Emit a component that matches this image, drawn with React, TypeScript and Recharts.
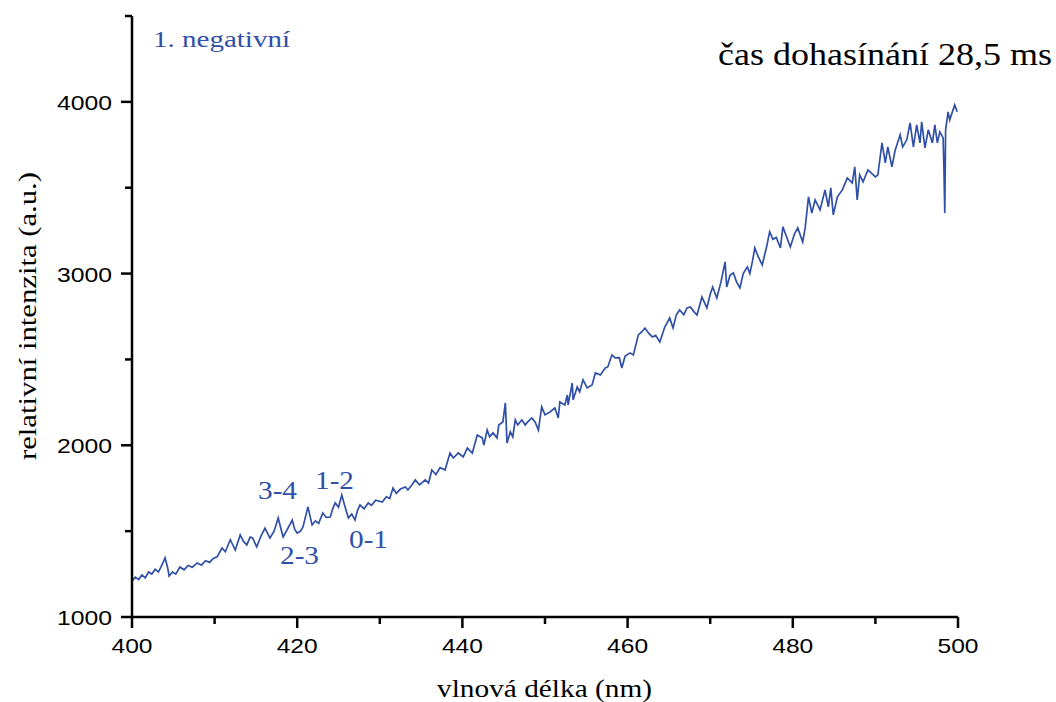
import React from 'react';
import { LineChart, Line, XAxis, YAxis } from 'recharts';

// wavelength (nm) and relative intensity (a.u.)
const wavelength = [
  400.0, 400.4, 400.8, 401.2, 401.6, 402.0, 402.4, 402.8, 403.2, 403.6,
  404.0, 404.3, 404.5, 404.9, 405.3, 405.8, 406.3, 406.8, 407.3, 407.9,
  408.4, 408.9, 409.4, 409.8, 410.3, 410.9, 411.3, 411.9, 412.5, 413.1,
  413.5, 413.9, 414.3, 414.6, 415.1, 415.6, 416.1, 416.7, 417.2, 417.7,
  418.0, 418.3, 418.8, 419.4, 419.7, 420.0, 420.4, 420.7, 421.3, 421.8,
  422.2, 422.6, 423.1, 423.5, 424.0, 424.3, 424.6, 425.0, 425.4, 425.8,
  426.2, 426.6, 427.0, 427.3, 427.6, 428.1, 428.6, 429.0, 429.5, 430.3,
  430.8, 431.2, 431.6, 432.0, 432.5, 433.1, 433.4, 433.9, 434.3, 434.8,
  435.5, 435.9, 436.3, 436.8, 437.3, 437.9, 438.5, 438.9, 439.5, 440.1,
  440.6, 441.2, 441.8, 442.4, 442.6, 443.0, 443.3, 443.7, 444.2, 444.4,
  444.9, 445.2, 445.4, 445.8, 446.1, 446.4, 446.7, 447.2, 447.6, 447.9,
  448.4, 448.8, 449.2, 449.6, 450.0, 450.6, 451.2, 451.6, 451.8, 452.4,
  452.7, 452.8, 453.3, 453.4, 453.9, 454.2, 454.6, 455.1, 455.7, 456.1,
  456.7, 457.3, 457.6, 458.1, 458.5, 459.0, 459.3, 459.7, 460.3, 460.7,
  461.3, 461.7, 462.1, 462.6, 463.0, 463.4, 463.9, 464.5, 465.1, 465.5,
  465.9, 466.3, 466.8, 467.2, 467.6, 468.0, 468.4, 469.0, 469.6, 470.0,
  470.3, 470.8, 471.3, 471.8, 472.0, 472.4, 472.8, 473.2, 473.6, 474.0,
  474.5, 474.8, 475.1, 475.4, 475.8, 476.3, 476.8, 477.2, 477.6, 478.0,
  478.5, 478.8, 479.2, 479.7, 480.2, 480.6, 481.2, 481.5, 481.9, 482.3,
  482.7, 483.3, 483.9, 484.3, 484.6, 484.9, 485.4, 486.0, 486.6, 487.2,
  487.5, 487.8, 488.1, 488.5, 489.1, 490.0, 490.3, 490.8, 491.2, 491.5,
  492.0, 492.4, 493.0, 493.3, 493.8, 494.2, 494.6, 495.0, 495.4, 495.6,
  496.0, 496.4, 496.9, 497.2, 497.5, 497.8, 498.2, 498.3, 498.4, 498.5,
  498.8, 499.0, 499.6, 499.9,
];

const intensity = [
  1210, 1232, 1218, 1245, 1228, 1262, 1250, 1278, 1262, 1300,
  1344, 1290, 1239, 1262, 1250, 1291, 1275, 1300, 1290, 1315,
  1302, 1328, 1318, 1340, 1350, 1402, 1380, 1450, 1390, 1478,
  1440, 1420, 1465, 1460, 1408, 1470, 1518, 1460, 1500, 1577,
  1520, 1466, 1510, 1565, 1510, 1489, 1500, 1524, 1641, 1536,
  1560, 1545, 1606, 1580, 1582, 1630, 1664, 1640, 1711, 1640,
  1577, 1600, 1565, 1620, 1652, 1630, 1664, 1650, 1680, 1670,
  1700, 1690, 1751, 1720, 1745, 1757, 1740, 1770, 1798, 1770,
  1798, 1780, 1856, 1830, 1870, 1856, 1955, 1926, 1955, 1932,
  1984, 1955, 2060, 2043, 2002, 2089, 2049, 2072, 2043, 2118,
  2136, 2247, 2014, 2078, 2049, 2148, 2118, 2148, 2118, 2136,
  2159, 2136, 2089, 2223, 2177, 2194, 2218, 2159, 2252, 2235,
  2293, 2235, 2363, 2264, 2340, 2311, 2381, 2334, 2351, 2421,
  2410, 2450, 2456, 2526, 2509, 2510, 2450, 2520, 2538, 2526,
  2643, 2660, 2683, 2650, 2631, 2640, 2602, 2689, 2742, 2683,
  2760, 2788, 2760, 2800, 2806, 2780, 2759, 2864, 2800, 2880,
  2922, 2858, 2950, 3068, 2922, 2990, 3004, 2950, 2916, 3000,
  3039, 3000, 3068, 3149, 3100, 3050, 3150, 3243, 3200, 3210,
  3149, 3272, 3220, 3155, 3230, 3266, 3184, 3266, 3447, 3353,
  3429, 3371, 3487, 3388, 3499, 3342, 3447, 3487, 3557, 3528,
  3621, 3429, 3575, 3534, 3604, 3563, 3575, 3761, 3645, 3738,
  3621, 3720, 3808, 3738, 3779, 3878, 3738, 3866, 3761, 3884,
  3732, 3837, 3761, 3866, 3761, 3825, 3790, 3604, 3353, 3837,
  3942, 3895, 3982, 3942,
];

const xTicks = [400, 410, 420, 430, 440, 450, 460, 470, 480, 490, 500];
const yTicks = [1000, 1500, 2000, 2500, 3000, 3500, 4000, 4500];

// vibrational band labels
const bandLabels = ['3-4', '1-2', '2-3', '0-1'];
const bandPos = [
  { x: 258, y: 499 },
  { x: 315, y: 489 },
  { x: 280, y: 564 },
  { x: 349, y: 548 },
];

const data = wavelength.map((wl, i) => ({ wl, value: intensity[i] }));

const SANS = 'Liberation Sans, Arial, sans-serif';
const SERIF = 'Liberation Serif, Times New Roman, Times, serif';
const BLUE = '#3050a8';

const XTick = (props: any) => {
  const { x, y, payload } = props;
  const v = payload.value;
  const major = v % 20 === 0;
  return (
    <g>
      <line x1={x} x2={x} y1={y} y2={y + (major ? 11 : 7)} stroke="#000" strokeWidth={2.5} />
      {major && (
        <text x={x} y={y + 36} textAnchor="middle" style={{ fontFamily: SANS }} fontSize={21} fill="#000"
          textLength={41} lengthAdjust="spacingAndGlyphs">
          {v}
        </text>
      )}
    </g>
  );
};

const YTick = (props: any) => {
  const { x, y, payload } = props;
  const v = payload.value;
  const major = v % 1000 === 0;
  return (
    <g>
      <line x1={x} x2={x - (major ? 11 : 7)} y1={y} y2={y} stroke="#000" strokeWidth={2.5} />
      {major && (
        <text x={x - 20} y={y + 8} textAnchor="end" style={{ fontFamily: SANS }} fontSize={21} fill="#000"
          textLength={55} lengthAdjust="spacingAndGlyphs">
          {v}
        </text>
      )}
    </g>
  );
};

export default function App() {
  return (
    <div style={{ position: 'absolute', left: 0, top: 0, width: 1056, height: 702, background: '#fff' }}>
      <LineChart width={1056} height={702} data={data} margin={{ top: 16, right: 98, bottom: 0, left: 0 }}>
        <XAxis
          dataKey="wl"
          type="number"
          domain={[400, 500]}
          ticks={xTicks}
          height={85}
          tickSize={0}
          tickMargin={0}
          tick={<XTick />}
          axisLine={{ stroke: '#000', strokeWidth: 2.5 }}
          tickLine={false}
        />
        <YAxis
          type="number"
          domain={[1000, 4500]}
          ticks={yTicks}
          width={132}
          tickSize={0}
          tickMargin={0}
          tick={<YTick />}
          axisLine={{ stroke: '#000', strokeWidth: 2.5 }}
          tickLine={false}
          allowDataOverflow
        />
        <Line
          type="linear"
          dataKey="value"
          stroke={BLUE}
          strokeWidth={1.7}
          dot={false}
          isAnimationActive={false}
        />
      </LineChart>
      <svg width={1056} height={702} style={{ position: 'absolute', left: 0, top: 0, pointerEvents: 'none', fontFamily: SERIF }}>
        <text x={153} y={47} fontSize={24} fill={BLUE}
          textLength={137} lengthAdjust="spacingAndGlyphs">1. negativní</text>
        <text x={718} y={65} fontSize={32} fill="#000"
          textLength={334} lengthAdjust="spacingAndGlyphs">čas dohasínání 28,5 ms</text>
        {bandLabels.map((b, i) => (
          <text key={b} x={bandPos[i].x} y={bandPos[i].y} fontSize={25} fill={BLUE}
            textLength={39} lengthAdjust="spacingAndGlyphs">{b}</text>
        ))}
        <text x={437} y={697} fontSize={25} fill="#000"
          textLength={215} lengthAdjust="spacingAndGlyphs">vlnová délka (nm)</text>
        <text transform="translate(36,316) rotate(-90)" textAnchor="middle" fontSize={25}
          fill="#000" textLength={288} lengthAdjust="spacingAndGlyphs">relativní intenzita (a.u.)</text>
      </svg>
    </div>
  );
}
